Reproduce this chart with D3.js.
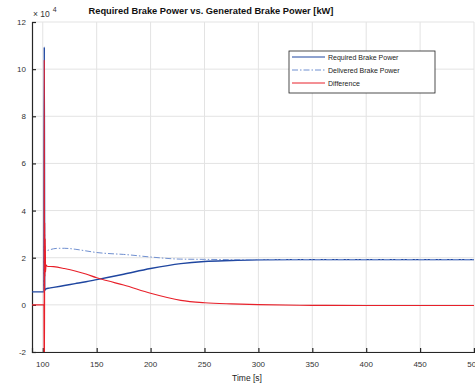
<!DOCTYPE html>
<html lang="en">
<head>
<meta charset="utf-8">
<title>Brake Power</title>
<script src="https://cdn.jsdelivr.net/npm/d3@7"></script>
<style>
  body { margin: 0; background: #fff; }
  text { font-family: "Liberation Sans", Arial, sans-serif; }
</style>
</head>
<body>
<script>
// data (power in units of 10^4 kW)
var reqTime  = [90, 101, 101.4, 101.8, 103, 106, 110, 120, 130, 140, 150, 160, 175, 200, 228, 250, 275, 300, 350, 400, 450, 500];
var reqPower = [0.55, 0.55, 10.94, 0.62, 0.68, 0.71, 0.74, 0.82, 0.9, 0.98, 1.07, 1.16, 1.3, 1.54, 1.75, 1.84, 1.88, 1.91, 1.92, 1.92, 1.92, 1.92];

var delTime  = [101, 101.6, 102, 102.5, 103, 106, 110, 115, 120, 130, 140, 150, 160, 175, 200, 228, 250, 275, 300, 350, 400, 450, 500];
var delPower = [0.55, 3.4, 2.2, 2.3, 2.3, 2.33, 2.38, 2.4, 2.4, 2.36, 2.29, 2.22, 2.18, 2.14, 2.03, 1.94, 1.93, 1.92, 1.92, 1.92, 1.92, 1.92, 1.92];

var diffTime  = [90, 101, 101.2, 101.4, 101.6, 101.8, 102, 102.3, 102.6, 103, 104, 110, 120, 130, 140, 150, 160, 175, 200, 228, 250, 275, 300, 350, 400, 450, 500];
var diffPower = [0, 0, -2.5, 10.4, -2.5, 3.5, 1.2, 2.8, 1.4, 1.7, 1.64, 1.62, 1.54, 1.44, 1.31, 1.15, 1.02, 0.84, 0.49, 0.19, 0.09, 0.04, 0.01, -0.02, -0.03, -0.03, -0.03];

var xTicks = [100, 150, 200, 250, 300, 350, 400, 450, 500];
var yTicks = [-2, 0, 2, 4, 6, 8, 10, 12];
var legendLabels = ["Required Brake Power", "Delivered Brake Power", "Difference"];

var w = 475, h = 387;
var pLeft = 32, pRight = 474, pTop = 22, pBottom = 352;

var svg = d3.select("body").append("svg")
  .attr("width", w)
  .attr("height", h);

var xScale = d3.scaleLinear().domain([90, 500]).range([pLeft, pRight]);
var yScale = d3.scaleLinear().domain([-2, 12]).range([pBottom, pTop]);

// grid
svg.append("g").selectAll("line")
  .data(xTicks)
  .enter().append("line")
  .attr("x1", function(d) { return xScale(d); })
  .attr("x2", function(d) { return xScale(d); })
  .attr("y1", pTop).attr("y2", pBottom)
  .attr("stroke", "#e3e3e3").attr("stroke-width", 1);

svg.append("g").selectAll("line")
  .data(yTicks)
  .enter().append("line")
  .attr("x1", pLeft).attr("x2", pRight)
  .attr("y1", function(d) { return yScale(d); })
  .attr("y2", function(d) { return yScale(d); })
  .attr("stroke", "#e3e3e3").attr("stroke-width", 1);

// axes (ticks inside, matlab style)
var xAxis = d3.axisTop(xScale).tickValues(xTicks).tickSize(4).tickFormat("");
svg.append("g")
  .attr("transform", "translate(0," + pBottom + ")")
  .call(xAxis)
  .call(function(g) { g.select(".domain").attr("stroke", "#262626").attr("stroke-width", 1.2); })
  .call(function(g) { g.selectAll(".tick line").attr("stroke", "#262626").attr("stroke-width", 1.2); });

var yAxis = d3.axisRight(yScale).tickValues(yTicks).tickSize(4).tickFormat("");
svg.append("g")
  .attr("transform", "translate(" + pLeft + ",0)")
  .call(yAxis)
  .call(function(g) { g.select(".domain").attr("stroke", "#262626").attr("stroke-width", 1.2); })
  .call(function(g) { g.selectAll(".tick line").attr("stroke", "#262626").attr("stroke-width", 1.2); });

// tick labels
svg.append("g").selectAll("text")
  .data(xTicks)
  .enter().append("text")
  .attr("x", function(d) { return xScale(d); })
  .attr("y", 367)
  .attr("text-anchor", "middle")
  .attr("font-size", "8px")
  .attr("fill", "#333")
  .text(function(d) { return d; });

svg.append("g").selectAll("text")
  .data(yTicks)
  .enter().append("text")
  .attr("x", 26)
  .attr("y", function(d) { return yScale(d) + 3; })
  .attr("text-anchor", "end")
  .attr("font-size", "8px")
  .attr("fill", "#333")
  .text(function(d) { return d; });

// exponent
var ex = svg.append("text").attr("x", 33).attr("y", 17).attr("font-size", "8.5px").attr("fill", "#333");
ex.append("tspan").text("\u00d7 10");
ex.append("tspan").attr("dx", 3).attr("dy", -5).attr("font-size", "7px").text("4");

// title & label
svg.append("text")
  .attr("x", 211).attr("y", 14)
  .attr("text-anchor", "middle")
  .attr("font-size", "9.3px")
  .attr("font-weight", "bold")
  .attr("fill", "#111")
  .text("Required Brake Power vs. Generated Brake Power [kW]");

svg.append("text")
  .attr("x", 247).attr("y", 381)
  .attr("text-anchor", "middle")
  .attr("font-size", "8.5px")
  .attr("fill", "#222")
  .text("Time [s]");

// lines
svg.append("clipPath").attr("id", "plotclip")
  .append("rect").attr("x", pLeft).attr("y", pTop)
  .attr("width", pRight - pLeft).attr("height", pBottom - pTop);

var plot = svg.append("g").attr("clip-path", "url(#plotclip)");

function lineFor(times) {
  return d3.line()
    .x(function(d, i) { return xScale(times[i]); })
    .y(function(d) { return yScale(d); })
    .curve(d3.curveMonotoneX);
}

plot.append("path")
  .datum(reqPower)
  .attr("d", lineFor(reqTime))
  .attr("fill", "none")
  .attr("stroke", "#1f46a0")
  .attr("stroke-width", 1.4);

plot.append("path")
  .datum(delPower)
  .attr("d", lineFor(delTime))
  .attr("fill", "none")
  .attr("stroke", "#6f8fd0")
  .attr("stroke-width", 1)
  .attr("stroke-dasharray", "6,2,1.5,2");

plot.append("path")
  .datum(diffPower)
  .attr("d", lineFor(diffTime))
  .attr("fill", "none")
  .attr("stroke", "#e8202a")
  .attr("stroke-width", 1.1);

// legend
var lg = svg.append("g");
lg.append("rect")
  .attr("x", 289).attr("y", 51)
  .attr("width", 146).attr("height", 42)
  .attr("fill", "#fff").attr("stroke", "#222").attr("stroke-width", 0.8);

var legColors = ["#1f46a0", "#6f8fd0", "#e8202a"];
var legDash = ["none", "6,2,1.5,2", "none"];
var legY = d3.scalePoint().domain(legendLabels).range([57, 83]);

lg.selectAll("line.sample")
  .data(legendLabels)
  .enter().append("line")
  .attr("class", "sample")
  .attr("x1", 292).attr("x2", 325)
  .attr("y1", function(d) { return legY(d); })
  .attr("y2", function(d) { return legY(d); })
  .attr("stroke", function(d, i) { return legColors[i]; })
  .attr("stroke-dasharray", function(d, i) { return legDash[i]; })
  .attr("stroke-width", 1);

lg.selectAll("text")
  .data(legendLabels)
  .enter().append("text")
  .attr("x", 328)
  .attr("y", function(d) { return legY(d) + 2.5; })
  .attr("font-size", "7px")
  .attr("fill", "#222")
  .text(function(d) { return d; });
</script>
</body>
</html>
